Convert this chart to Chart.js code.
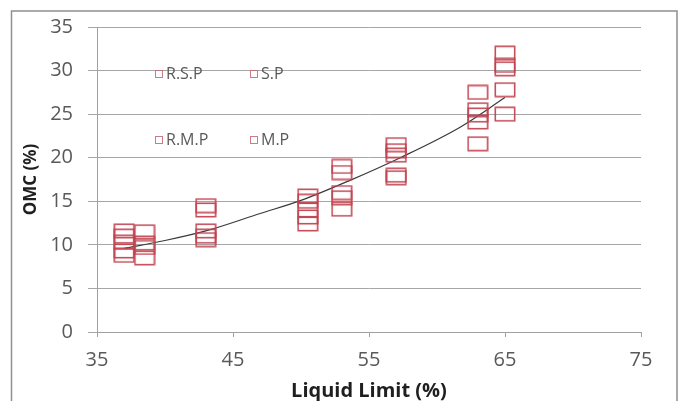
<!DOCTYPE html>
<html>
<head>
<meta charset="utf-8">
<script src="https://cdn.jsdelivr.net/npm/chart.js@4.4.1/dist/chart.umd.min.js"></script>
<style>
  html, body { margin: 0; padding: 0; background: #ffffff; }
  #wrap { width: 684px; height: 401px; position: relative; }
</style>
</head>
<body>
<div id="wrap"><canvas id="c" width="684" height="401"></canvas></div>
<script>
// ---- data ----
const seriesNames = ['R.S.P', 'S.P', 'R.M.P', 'M.P'];
const liquidLimit = [37, 38.5, 43, 50.5, 53, 57, 63, 65];
const omcRSP = [11.6, 11.5, 14.5, 15.6, 19.0, 21.5, 27.5, 32.0];
const omcSP  = [11.0, 10.2, 14.0, 15.0, 18.3, 20.8, 25.5, 30.6];
const omcRMP = [10.3, 9.7, 11.6, 14.0, 16.0, 20.3, 24.9, 30.2];
const llMP   = [37, 38.5, 43, 50.5, 53, 57, 63, 65, 37, 43, 50.5, 53, 57, 63, 65];
const omcMP  = [9.3, 8.5, 11.0, 13.2, 15.4, 18.0, 24.1, 27.8, 8.8, 10.6, 12.4, 14.1, 17.7, 21.6, 25.0];
const trendLL  = [37, 40, 43, 47, 50, 53.6, 57.3, 61.7, 65];
const trendOMC = [9.6, 10.5, 11.6, 13.6, 15.1, 17.4, 20.0, 23.5, 26.9];
const xTicks = [35, 45, 55, 65, 75];
const yTicks = [0, 5, 10, 15, 20, 25, 30, 35];

const markerColor = 'rgba(192,64,77,0.92)';
const textColor = '#595959';

function makeBox(w, h, lw, color) {
  const cv = document.createElement('canvas');
  cv.width = w + 2; cv.height = h + 2;
  const g = cv.getContext('2d');
  g.strokeStyle = color; g.lineWidth = lw;
  g.strokeRect(1 + lw / 2 - 0.5, 1 + lw / 2 - 0.5, w - lw + 1, h - lw + 1);
  return cv;
}
const boxMarker = makeBox(20, 14, 1.6, markerColor);

function pts(xs, ys) { return xs.map((x, i) => ({ x: x, y: ys[i] })); }

const scatterSets = [
  pts(liquidLimit, omcRSP),
  pts(liquidLimit, omcSP),
  pts(liquidLimit, omcRMP),
  pts(llMP, omcMP)
].map((d, i) => ({
  type: 'scatter',
  label: seriesNames[i],
  data: d,
  pointStyle: boxMarker,
  pointRadius: 8,
  pointHoverRadius: 8,
  showLine: false
}));

const trendSet = {
  type: 'line',
  label: 'trend',
  data: pts(trendLL, trendOMC),
  borderColor: '#3a3a3a',
  borderWidth: 1.2,
  pointRadius: 0,
  fill: false,
  tension: 0.4,
  cubicInterpolationMode: 'monotone'
};

const framePlugin = {
  id: 'frame',
  beforeDraw(chart) {
    const ctx = chart.ctx;
    ctx.save();
    ctx.fillStyle = '#ffffff';
    ctx.fillRect(0, 0, chart.width, chart.height);
    ctx.restore();
  },
  afterDraw(chart) {
    const ctx = chart.ctx;
    ctx.save();
    ctx.strokeStyle = '#8f8f8f';
    ctx.lineWidth = 1.5;
    ctx.strokeRect(11.5, 11, 665.5, 400);
    ctx.restore();
  }
};

const legendPlugin = {
  id: 'innerLegend',
  afterDatasetsDraw(chart) {
    const ctx = chart.ctx;
    const pos = [[159, 74], [254, 74], [159, 140], [254, 140]];
    ctx.save();
    ctx.font = '16px "Open Sans"';
    ctx.fillStyle = textColor;
    ctx.textBaseline = 'middle';
    ctx.textAlign = 'left';
    seriesNames.forEach((name, i) => {
      const [x, y] = pos[i];
      ctx.strokeStyle = 'rgba(200,110,120,0.9)';
      ctx.lineWidth = 1;
      ctx.strokeRect(x - 3.5, y - 3.5, 7, 7);
      ctx.fillText(name, x + 7, y);
    });
    ctx.restore();
  }
};

new Chart(document.getElementById('c'), {
  data: { datasets: [...scatterSets, trendSet] },
  options: {
    responsive: false,
    animation: false,
    devicePixelRatio: 1,
    layout: { padding: { top: 23, right: 43, bottom: 0, left: 0 } },
    plugins: { legend: { display: false }, tooltip: { enabled: false } },
    scales: {
      x: {
        type: 'linear',
        min: 35, max: 75,
        afterFit(s) { s.height = 69; },
        afterBuildTicks(s) { s.ticks = xTicks.map(v => ({ value: v })); },
        grid: { drawOnChartArea: false, drawTicks: true, tickLength: 5, color: '#a0a0a0' },
        border: { display: true, color: '#a0a0a0', width: 1 },
        ticks: { color: textColor, font: { family: 'Open Sans', size: 20 }, padding: 11, maxRotation: 0 },
        title: { display: true, text: 'Liquid Limit (%)', color: '#1f1f1f',
                 font: { family: 'Open Sans', size: 20, weight: 'bold' }, padding: { top: 0, bottom: -2 } }
      },
      y: {
        type: 'linear',
        min: 0, max: 35,
        afterFit(s) { s.width = 97; },
        afterBuildTicks(s) { s.ticks = yTicks.map(v => ({ value: v })); },
        grid: { drawOnChartArea: true, drawTicks: true, tickLength: 9, color: '#a6a6a6', lineWidth: 1 },
        border: { display: true, color: '#a0a0a0', width: 1 },
        ticks: { color: textColor, font: { family: 'Open Sans', size: 20 }, padding: 15 },
        title: { display: true, text: 'OMC (%)', color: '#1f1f1f',
                 font: { family: 'Open Sans', size: 17, weight: 'bold' }, padding: { top: 21, bottom: 21 } }
      }
    }
  },
  plugins: [framePlugin, legendPlugin]
});
</script>
</body>
</html>
